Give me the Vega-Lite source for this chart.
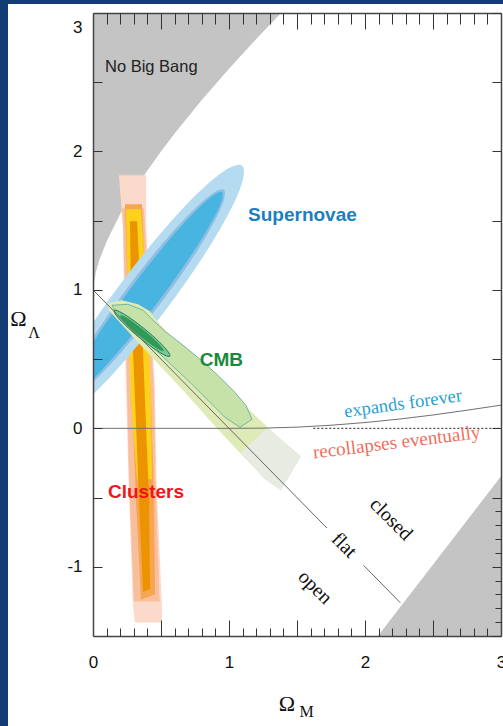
{
  "$schema": "https://vega.github.io/schema/vega-lite/v6.json",
  "width": 408,
  "height": 623,
  "autosize": {"type": "none"},
  "padding": {"left": 93, "top": 13, "right": 2, "bottom": 90},
  "background": "white",
  "config": {"view": {"stroke": null}},
  "datasets": {
    "frame": [
      {"edge": "left", "om": -0.7, "ol": 3.2, "om2": -0.625, "ol2": -2.3},
      {"edge": "top", "om": -0.7, "ol": 3.2, "om2": 3.2, "ol2": 3.065}
    ],
    "nobigbang": [
      {"om": 0, "ol": 1.0}, {"om": 0.02, "ol": 1.125}, {"om": 0.05, "ol": 1.2245}, {"om": 0.1, "ol": 1.35},
      {"om": 0.2, "ol": 1.548}, {"om": 0.3, "ol": 1.7135}, {"om": 0.4, "ol": 1.862}, {"om": 0.5, "ol": 2.0},
      {"om": 0.6, "ol": 2.13}, {"om": 0.8, "ol": 2.372}, {"om": 1.0, "ol": 2.598}, {"om": 1.2, "ol": 2.812},
      {"om": 1.4, "ol": 3.018}, {"om": 1.5, "ol": 3.1175}
    ],
    "recollapse": [
      {"om": 2.095, "ol": -1.5}, {"om": 2.55, "ol": -0.92}, {"om": 3.0, "ol": -0.347}, {"om": 3.1, "ol": -0.22}
    ],
    "shapes": [
      {"part": "sn_outer", "i": 0, "om": 1.095, "ol": 1.897}, {"part": "sn_outer", "i": 1, "om": 1.076, "ol": 1.716},
      {"part": "sn_outer", "i": 2, "om": 0.871, "ol": 1.335}, {"part": "sn_outer", "i": 3, "om": 0.535, "ol": 0.855},
      {"part": "sn_outer", "i": 4, "om": 0.158, "ol": 0.406}, {"part": "sn_outer", "i": 5, "om": -0.158, "ol": 0.107},
      {"part": "sn_outer", "i": 6, "om": -0.33, "ol": 0.039}, {"part": "sn_outer", "i": 7, "om": -0.311, "ol": 0.22},
      {"part": "sn_outer", "i": 8, "om": -0.106, "ol": 0.602}, {"part": "sn_outer", "i": 9, "om": 0.23, "ol": 1.081},
      {"part": "sn_outer", "i": 10, "om": 0.606, "ol": 1.531}, {"part": "sn_outer", "i": 11, "om": 0.923, "ol": 1.829},

      {"part": "sn_ring", "i": 0, "om": 0.962, "ol": 1.724}, {"part": "sn_ring", "i": 1, "om": 0.937, "ol": 1.584},
      {"part": "sn_ring", "i": 2, "om": 0.764, "ol": 1.278}, {"part": "sn_ring", "i": 3, "om": 0.488, "ol": 0.89},
      {"part": "sn_ring", "i": 4, "om": 0.184, "ol": 0.522}, {"part": "sn_ring", "i": 5, "om": -0.067, "ol": 0.274},
      {"part": "sn_ring", "i": 6, "om": -0.197, "ol": 0.212}, {"part": "sn_ring", "i": 7, "om": -0.173, "ol": 0.353},
      {"part": "sn_ring", "i": 8, "om": 0.001, "ol": 0.658}, {"part": "sn_ring", "i": 9, "om": 0.277, "ol": 1.047},
      {"part": "sn_ring", "i": 10, "om": 0.581, "ol": 1.414}, {"part": "sn_ring", "i": 11, "om": 0.832, "ol": 1.662},

      {"part": "sn_inner", "i": 0, "om": 0.949, "ol": 1.707}, {"part": "sn_inner", "i": 1, "om": 0.917, "ol": 1.575},
      {"part": "sn_inner", "i": 2, "om": 0.742, "ol": 1.281}, {"part": "sn_inner", "i": 3, "om": 0.471, "ol": 0.903},
      {"part": "sn_inner", "i": 4, "om": 0.176, "ol": 0.542}, {"part": "sn_inner", "i": 5, "om": -0.064, "ol": 0.296},
      {"part": "sn_inner", "i": 6, "om": -0.184, "ol": 0.23}, {"part": "sn_inner", "i": 7, "om": -0.152, "ol": 0.361},
      {"part": "sn_inner", "i": 8, "om": 0.023, "ol": 0.655}, {"part": "sn_inner", "i": 9, "om": 0.294, "ol": 1.033},
      {"part": "sn_inner", "i": 10, "om": 0.589, "ol": 1.394}, {"part": "sn_inner", "i": 11, "om": 0.829, "ol": 1.64},

      {"part": "cmb_outer", "i": 0, "om": 0.11, "ol": 0.903}, {"part": "cmb_outer", "i": 1, "om": 0.213, "ol": 0.925},
      {"part": "cmb_outer", "i": 2, "om": 0.331, "ol": 0.896}, {"part": "cmb_outer", "i": 3, "om": 0.419, "ol": 0.845},
      {"part": "cmb_outer", "i": 4, "om": 0.478, "ol": 0.766}, {"part": "cmb_outer", "i": 5, "om": 0.566, "ol": 0.672},
      {"part": "cmb_outer", "i": 6, "om": 0.669, "ol": 0.578}, {"part": "cmb_outer", "i": 7, "om": 0.787, "ol": 0.477},
      {"part": "cmb_outer", "i": 8, "om": 0.919, "ol": 0.354}, {"part": "cmb_outer", "i": 9, "om": 1.051, "ol": 0.224},
      {"part": "cmb_outer", "i": 10, "om": 1.191, "ol": 0.094}, {"part": "cmb_outer", "i": 11, "om": 1.324, "ol": -0.029},
      {"part": "cmb_outer", "i": 12, "om": 1.441, "ol": -0.13}, {"part": "cmb_outer", "i": 13, "om": 1.529, "ol": -0.202},
      {"part": "cmb_outer", "i": 14, "om": 1.382, "ol": -0.448}, {"part": "cmb_outer", "i": 15, "om": 1.265, "ol": -0.368},
      {"part": "cmb_outer", "i": 16, "om": 1.14, "ol": -0.238}, {"part": "cmb_outer", "i": 17, "om": 1.022, "ol": -0.116},
      {"part": "cmb_outer", "i": 18, "om": 0.904, "ol": 0.007}, {"part": "cmb_outer", "i": 19, "om": 0.787, "ol": 0.137},
      {"part": "cmb_outer", "i": 20, "om": 0.669, "ol": 0.267}, {"part": "cmb_outer", "i": 21, "om": 0.551, "ol": 0.39},
      {"part": "cmb_outer", "i": 22, "om": 0.434, "ol": 0.513}, {"part": "cmb_outer", "i": 23, "om": 0.331, "ol": 0.621},
      {"part": "cmb_outer", "i": 24, "om": 0.243, "ol": 0.715}, {"part": "cmb_outer", "i": 25, "om": 0.162, "ol": 0.802},
      {"part": "cmb_outer", "i": 26, "om": 0.11, "ol": 0.86},

      {"part": "cmb_tail", "i": 0, "om": 1.287, "ol": 0.007}, {"part": "cmb_tail", "i": 1, "om": 1.324, "ol": -0.029},
      {"part": "cmb_tail", "i": 2, "om": 1.441, "ol": -0.13}, {"part": "cmb_tail", "i": 3, "om": 1.529, "ol": -0.202},
      {"part": "cmb_tail", "i": 4, "om": 1.382, "ol": -0.448}, {"part": "cmb_tail", "i": 5, "om": 1.265, "ol": -0.368},
      {"part": "cmb_tail", "i": 6, "om": 1.14, "ol": -0.238}, {"part": "cmb_tail", "i": 7, "om": 1.081, "ol": -0.181},

      {"part": "cmb_mid", "i": 0, "om": 0.14, "ol": 0.889}, {"part": "cmb_mid", "i": 1, "om": 0.257, "ol": 0.896},
      {"part": "cmb_mid", "i": 2, "om": 0.368, "ol": 0.853}, {"part": "cmb_mid", "i": 3, "om": 0.434, "ol": 0.788},
      {"part": "cmb_mid", "i": 4, "om": 0.529, "ol": 0.701}, {"part": "cmb_mid", "i": 5, "om": 0.654, "ol": 0.607},
      {"part": "cmb_mid", "i": 6, "om": 0.787, "ol": 0.499}, {"part": "cmb_mid", "i": 7, "om": 0.919, "ol": 0.383},
      {"part": "cmb_mid", "i": 8, "om": 1.037, "ol": 0.267}, {"part": "cmb_mid", "i": 9, "om": 1.125, "ol": 0.166},
      {"part": "cmb_mid", "i": 10, "om": 1.169, "ol": 0.065}, {"part": "cmb_mid", "i": 11, "om": 1.081, "ol": 0.007},
      {"part": "cmb_mid", "i": 12, "om": 0.971, "ol": 0.079}, {"part": "cmb_mid", "i": 13, "om": 0.846, "ol": 0.202},
      {"part": "cmb_mid", "i": 14, "om": 0.713, "ol": 0.332}, {"part": "cmb_mid", "i": 15, "om": 0.581, "ol": 0.455},
      {"part": "cmb_mid", "i": 16, "om": 0.463, "ol": 0.564}, {"part": "cmb_mid", "i": 17, "om": 0.346, "ol": 0.672},
      {"part": "cmb_mid", "i": 18, "om": 0.243, "ol": 0.773}, {"part": "cmb_mid", "i": 19, "om": 0.162, "ol": 0.845},

      {"part": "cmb_ell", "i": 0, "om": 0.565, "ol": 0.521}, {"part": "cmb_ell", "i": 1, "om": 0.526, "ol": 0.529},
      {"part": "cmb_ell", "i": 2, "om": 0.442, "ol": 0.58}, {"part": "cmb_ell", "i": 3, "om": 0.337, "ol": 0.659},
      {"part": "cmb_ell", "i": 4, "om": 0.238, "ol": 0.745}, {"part": "cmb_ell", "i": 5, "om": 0.172, "ol": 0.815},
      {"part": "cmb_ell", "i": 6, "om": 0.156, "ol": 0.852}, {"part": "cmb_ell", "i": 7, "om": 0.195, "ol": 0.843},
      {"part": "cmb_ell", "i": 8, "om": 0.278, "ol": 0.793}, {"part": "cmb_ell", "i": 9, "om": 0.384, "ol": 0.714},
      {"part": "cmb_ell", "i": 10, "om": 0.483, "ol": 0.628}, {"part": "cmb_ell", "i": 11, "om": 0.549, "ol": 0.557},

      {"part": "cmb_core", "i": 0, "om": 0.519, "ol": 0.558}, {"part": "cmb_core", "i": 1, "om": 0.49, "ol": 0.565},
      {"part": "cmb_core", "i": 2, "om": 0.426, "ol": 0.605}, {"part": "cmb_core", "i": 3, "om": 0.344, "ol": 0.667},
      {"part": "cmb_core", "i": 4, "om": 0.267, "ol": 0.734}, {"part": "cmb_core", "i": 5, "om": 0.214, "ol": 0.788},
      {"part": "cmb_core", "i": 6, "om": 0.201, "ol": 0.815}, {"part": "cmb_core", "i": 7, "om": 0.231, "ol": 0.807},
      {"part": "cmb_core", "i": 8, "om": 0.295, "ol": 0.768}, {"part": "cmb_core", "i": 9, "om": 0.377, "ol": 0.706},
      {"part": "cmb_core", "i": 10, "om": 0.454, "ol": 0.639}, {"part": "cmb_core", "i": 11, "om": 0.506, "ol": 0.585},

      {"part": "cl_pink", "i": 0, "om": 0.191, "ol": 1.828}, {"part": "cl_pink", "i": 1, "om": 0.39, "ol": 1.828},
      {"part": "cl_pink", "i": 2, "om": 0.39, "ol": 1.46}, {"part": "cl_pink", "i": 3, "om": 0.456, "ol": 0.282},
      {"part": "cl_pink", "i": 4, "om": 0.467, "ol": -0.368}, {"part": "cl_pink", "i": 5, "om": 0.507, "ol": -1.286},
      {"part": "cl_pink", "i": 6, "om": 0.507, "ol": -1.402}, {"part": "cl_pink", "i": 7, "om": 0.309, "ol": -1.402},
      {"part": "cl_pink", "i": 8, "om": 0.294, "ol": -1.286}, {"part": "cl_pink", "i": 9, "om": 0.261, "ol": -0.368},
      {"part": "cl_pink", "i": 10, "om": 0.243, "ol": 0.282}, {"part": "cl_pink", "i": 11, "om": 0.219, "ol": 1.46},

      {"part": "cl_salmon", "i": 0, "om": 0.213, "ol": 1.59}, {"part": "cl_salmon", "i": 1, "om": 0.375, "ol": 1.59},
      {"part": "cl_salmon", "i": 2, "om": 0.449, "ol": 0.282}, {"part": "cl_salmon", "i": 3, "om": 0.46, "ol": -0.368},
      {"part": "cl_salmon", "i": 4, "om": 0.49, "ol": -1.25}, {"part": "cl_salmon", "i": 5, "om": 0.3, "ol": -1.25},
      {"part": "cl_salmon", "i": 6, "om": 0.265, "ol": -0.368}, {"part": "cl_salmon", "i": 7, "om": 0.25, "ol": 0.282},
      {"part": "cl_salmon", "i": 8, "om": 0.222, "ol": 1.46},

      {"part": "cl_orange", "i": 0, "om": 0.235, "ol": 1.618}, {"part": "cl_orange", "i": 1, "om": 0.36, "ol": 1.618},
      {"part": "cl_orange", "i": 2, "om": 0.39, "ol": 0.932}, {"part": "cl_orange", "i": 3, "om": 0.426, "ol": 0.21},
      {"part": "cl_orange", "i": 4, "om": 0.449, "ol": -0.513}, {"part": "cl_orange", "i": 5, "om": 0.456, "ol": -1.199},
      {"part": "cl_orange", "i": 6, "om": 0.353, "ol": -1.236}, {"part": "cl_orange", "i": 7, "om": 0.316, "ol": -0.513},
      {"part": "cl_orange", "i": 8, "om": 0.287, "ol": 0.21}, {"part": "cl_orange", "i": 9, "om": 0.257, "ol": 0.932},

      {"part": "cl_yellow", "i": 0, "om": 0.243, "ol": 1.582}, {"part": "cl_yellow", "i": 1, "om": 0.353, "ol": 1.582},
      {"part": "cl_yellow", "i": 2, "om": 0.397, "ol": 0.932}, {"part": "cl_yellow", "i": 3, "om": 0.426, "ol": 0.21},
      {"part": "cl_yellow", "i": 4, "om": 0.434, "ol": -0.368}, {"part": "cl_yellow", "i": 5, "om": 0.324, "ol": -0.368},
      {"part": "cl_yellow", "i": 6, "om": 0.279, "ol": 0.21}, {"part": "cl_yellow", "i": 7, "om": 0.257, "ol": 0.932},

      {"part": "cl_core", "i": 0, "om": 0.272, "ol": 1.496}, {"part": "cl_core", "i": 1, "om": 0.324, "ol": 1.496},
      {"part": "cl_core", "i": 2, "om": 0.353, "ol": 0.932}, {"part": "cl_core", "i": 3, "om": 0.382, "ol": 0.21},
      {"part": "cl_core", "i": 4, "om": 0.412, "ol": -0.513}, {"part": "cl_core", "i": 5, "om": 0.419, "ol": -1.163},
      {"part": "cl_core", "i": 6, "om": 0.368, "ol": -1.178}, {"part": "cl_core", "i": 7, "om": 0.338, "ol": -0.513},
      {"part": "cl_core", "i": 8, "om": 0.309, "ol": 0.21}, {"part": "cl_core", "i": 9, "om": 0.279, "ol": 0.932}
    ],
    "flat": [
      {"seg": "a", "om": 0, "ol": 1}, {"seg": "a", "om": 1.72, "ol": -0.72},
      {"seg": "b", "om": 1.99, "ol": -0.99}, {"seg": "b", "om": 2.26, "ol": -1.26}
    ],
    "expansion": [
      {"om": 0, "ol": 0}, {"om": 1.0, "ol": 0}, {"om": 1.25, "ol": 0.0015}, {"om": 1.5, "ol": 0.0087},
      {"om": 1.75, "ol": 0.0223}, {"om": 2.0, "ol": 0.0419}, {"om": 2.25, "ol": 0.0666}, {"om": 2.5, "ol": 0.0964},
      {"om": 2.75, "ol": 0.1309}, {"om": 3.0, "ol": 0.1675}
    ],
    "zeroline": [{"om": 1.62, "ol": 0}, {"om": 3.0, "ol": 0}],
    "labels": [
      {"label": "No Big Bang", "om": 0.088, "ol": 2.612},
      {"label": "Supernovae", "om": 1.14, "ol": 1.543},
      {"label": "CMB", "om": 0.785, "ol": 0.495},
      {"label": "Clusters", "om": 0.11, "ol": -0.459},
      {"label": "expands forever", "om": 2.279, "ol": 0.181},
      {"label": "recollapses eventually", "om": 2.232, "ol": -0.101},
      {"label": "closed", "om": 2.191, "ol": -0.657},
      {"label": "flat", "om": 1.846, "ol": -0.845},
      {"label": "open", "om": 1.632, "ol": -1.149},
      {"label": "Ω", "om": -0.548, "ol": 0.788},
      {"label": "Λ", "om": -0.434, "ol": 0.686},
      {"label": "Ω ", "om": 1.426, "ol": -1.991},
      {"label": "M", "om": 1.57, "ol": -2.048}
    ]
  },
  "data": {"name": "shapes"},
  "encoding": {
    "x": {"field": "om", "type": "quantitative", "scale": {"domain": [0, 3], "nice": false, "zero": false}, "axis": null},
    "y": {"field": "ol", "type": "quantitative", "scale": {"domain": [-1.5, 3], "nice": false, "zero": false}, "axis": null}
  },
  "resolve": {"axis": {"x": "independent", "y": "independent"}},
  "layer": [
    {
      "data": {"name": "frame"},
      "mark": {"type": "rect", "fill": "#123d74", "clip": false},
      "encoding": {
        "x2": {"field": "om2"},
        "y2": {"field": "ol2"}
      }
    },
    {
      "data": {"name": "nobigbang"},
      "mark": {"type": "area", "orient": "horizontal", "color": "#c4c4c4", "clip": true},
      "encoding": {
        "x": {"field": "om", "type": "quantitative", "scale": {"domain": [0, 3], "nice": false, "zero": false},
          "axis": {"orient": "bottom", "values": [0, 1, 2, 3], "ticks": false, "domain": true, "domainColor": "#444", "domainWidth": 1.5,
            "labelFont": "Liberation Sans", "labelFontSize": 17, "labelColor": "#111", "labelPadding": 18, "labelFlush": false,
            "grid": false, "title": null, "zindex": 1}},
        "x2": {"datum": 0},
        "y": {"field": "ol", "type": "quantitative", "scale": {"domain": [-1.5, 3], "nice": false, "zero": false},
          "axis": {"orient": "left", "values": [-1, 0, 1, 2, 3], "ticks": false, "domain": true, "domainColor": "#444", "domainWidth": 1.5,
            "labelFont": "Liberation Sans", "labelFontSize": 17, "labelColor": "#111", "labelPadding": 11, "labelFlush": true,
            "labelFlushOffset": -6, "labelExpr": "replace(datum.label, '\u2212', '-')", "grid": false, "title": null, "zindex": 1}}
      }
    },
    {
      "data": {"name": "recollapse"},
      "mark": {"type": "area", "orient": "vertical", "color": "#c4c4c4", "clip": true},
      "encoding": {
        "x": {"field": "om", "type": "quantitative", "scale": {"domain": [0, 3], "nice": false, "zero": false},
          "axis": {"orient": "top", "values": [0, 0.5, 1, 1.5, 2, 2.5, 3], "ticks": true, "tickSize": -16, "tickColor": "#333",
            "labels": false, "domain": true, "domainColor": "#444", "domainWidth": 1.5, "grid": false, "title": null, "zindex": 1}},
        "y": {"field": "ol", "type": "quantitative", "scale": {"domain": [-1.5, 3], "nice": false, "zero": false},
          "axis": {"orient": "right", "values": [-1.5, -1, -0.5, 0, 0.5, 1, 1.5, 2, 2.5, 3], "ticks": true, "tickSize": -9, "tickColor": "#333",
            "labels": false, "domain": true, "domainColor": "#444", "domainWidth": 1.5, "grid": false, "title": null, "zindex": 1}},
        "y2": {"datum": -1.5}
      }
    },
    {
      "transform": [{"filter": "datum.part === 'cl_pink'"}],
      "mark": {"type": "line", "interpolate": "linear-closed", "fill": "#fcdacb", "stroke": "transparent", "clip": true},
      "encoding": {
        "x": {"field": "om", "type": "quantitative", "scale": {"domain": [0, 3], "nice": false, "zero": false},
          "axis": {"orient": "bottom", "values": [0.5, 1, 1.5, 2, 2.5], "ticks": true, "tickSize": -16, "tickColor": "#333",
            "labels": false, "domain": false, "grid": false, "title": null, "zindex": 1}},
        "y": {"field": "ol", "type": "quantitative", "scale": {"domain": [-1.5, 3], "nice": false, "zero": false},
          "axis": {"orient": "left", "values": [-1, -0.5, 0, 0.5, 1, 1.5, 2, 2.5], "ticks": true, "tickSize": -9, "tickColor": "#333",
            "labels": false, "domain": false, "grid": false, "title": null, "zindex": 1}},
        "order": {"field": "i", "type": "quantitative"}
      }
    },
    {
      "transform": [{"filter": "datum.part === 'cl_salmon'"}],
      "mark": {"type": "line", "interpolate": "linear-closed", "fill": "#f9bf9c", "stroke": "transparent", "clip": true},
      "encoding": {
        "x": {"field": "om", "type": "quantitative", "scale": {"domain": [0, 3], "nice": false, "zero": false},
          "axis": {"orient": "bottom", "values": [0.1, 0.2, 0.3, 0.4, 0.6, 0.7, 0.8, 0.9, 1.1, 1.2, 1.3, 1.4, 1.6, 1.7, 1.8, 1.9, 2.1, 2.2, 2.3, 2.4, 2.6, 2.7, 2.8, 2.9],
            "ticks": true, "tickSize": -8, "tickColor": "#333", "labels": false, "domain": false, "grid": false, "title": null, "zindex": 1}},
        "y": {"field": "ol", "type": "quantitative", "scale": {"domain": [-1.5, 3], "nice": false, "zero": false},
          "axis": {"orient": "right", "values": [-1.4, -1.3, -1.2, -1.1, -0.9, -0.8, -0.7, -0.6],
            "ticks": true, "tickSize": -6, "tickColor": "#333", "labels": false, "domain": false, "grid": false, "title": null, "zindex": 1}},
        "order": {"field": "i", "type": "quantitative"}
      }
    },
    {
      "transform": [{"filter": "datum.part === 'cl_orange'"}],
      "mark": {"type": "line", "interpolate": "linear-closed", "fill": "#f6a552", "stroke": "transparent", "clip": true},
      "encoding": {
        "x": {"field": "om", "type": "quantitative", "scale": {"domain": [0, 3], "nice": false, "zero": false},
          "axis": {"orient": "top", "values": [0.1, 0.2, 0.3, 0.4, 0.6, 0.7, 0.8, 0.9, 1.1, 1.2, 1.3, 1.4, 1.6, 1.7, 1.8, 1.9, 2.1, 2.2, 2.3, 2.4, 2.6, 2.7, 2.8, 2.9],
            "ticks": true, "tickSize": -11, "tickColor": "#333", "labels": false, "domain": false, "grid": false, "title": null, "zindex": 1}},
        "order": {"field": "i", "type": "quantitative"}
      }
    },
    {
      "transform": [{"filter": "datum.part === 'cl_yellow'"}],
      "mark": {"type": "line", "interpolate": "linear-closed", "fill": "#fdd21a", "stroke": "transparent", "clip": true},
      "encoding": {"order": {"field": "i", "type": "quantitative"}}
    },
    {
      "transform": [{"filter": "datum.part === 'cl_core'"}],
      "mark": {"type": "line", "interpolate": "linear-closed", "fill": "#ec9300", "stroke": "transparent", "clip": true},
      "encoding": {"order": {"field": "i", "type": "quantitative"}}
    },
    {
      "transform": [{"filter": "datum.part === 'sn_outer'"}],
      "mark": {"type": "line", "interpolate": "cardinal-closed", "fill": "#b5dbf0", "stroke": "transparent", "clip": true},
      "encoding": {"order": {"field": "i", "type": "quantitative"}}
    },
    {
      "transform": [{"filter": "datum.part === 'sn_ring'"}],
      "mark": {"type": "line", "interpolate": "cardinal-closed", "fill": "#92bde3", "stroke": "transparent", "clip": true},
      "encoding": {"order": {"field": "i", "type": "quantitative"}}
    },
    {
      "transform": [{"filter": "datum.part === 'sn_inner'"}],
      "mark": {"type": "line", "interpolate": "cardinal-closed", "fill": "#48b5e0", "stroke": "transparent", "clip": true},
      "encoding": {"order": {"field": "i", "type": "quantitative"}}
    },
    {
      "transform": [{"filter": "datum.part === 'cmb_outer'"}],
      "mark": {"type": "line", "interpolate": "linear-closed", "fill": "#dfebb6", "stroke": "transparent", "clip": true},
      "encoding": {"order": {"field": "i", "type": "quantitative"}}
    },
    {
      "transform": [{"filter": "datum.part === 'cmb_tail'"}],
      "mark": {"type": "line", "interpolate": "linear-closed", "fill": "#e8ebe2", "stroke": "transparent", "clip": true},
      "encoding": {"order": {"field": "i", "type": "quantitative"}}
    },
    {
      "transform": [{"filter": "datum.part === 'cmb_mid'"}],
      "mark": {"type": "line", "interpolate": "linear-closed", "fill": "#c6e2a8", "stroke": "#5aaa9c", "strokeWidth": 0.8, "clip": true},
      "encoding": {"order": {"field": "i", "type": "quantitative"}}
    },
    {
      "transform": [{"filter": "datum.part === 'cmb_ell'"}],
      "mark": {"type": "line", "interpolate": "cardinal-closed", "fill": "#7cc796", "stroke": "#1b7a55", "strokeWidth": 1, "clip": true},
      "encoding": {"order": {"field": "i", "type": "quantitative"}}
    },
    {
      "transform": [{"filter": "datum.part === 'cmb_core'"}],
      "mark": {"type": "line", "interpolate": "cardinal-closed", "fill": "#2f9a55", "stroke": "transparent", "clip": true},
      "encoding": {"order": {"field": "i", "type": "quantitative"}}
    },
    {
      "data": {"name": "expansion"},
      "mark": {"type": "line", "color": "#707070", "strokeWidth": 1, "clip": true},
      "encoding": {}
    },
    {
      "data": {"name": "zeroline"},
      "mark": {"type": "line", "color": "#222", "strokeWidth": 1, "strokeDash": [2, 2], "clip": true},
      "encoding": {}
    },
    {
      "data": {"name": "flat"},
      "mark": {"type": "line", "color": "#666", "strokeWidth": 1, "clip": true},
      "encoding": {"detail": {"field": "seg", "type": "nominal"}}
    },
    {
      "data": {"name": "labels"},
      "transform": [{"filter": "datum.label === 'No Big Bang'"}],
      "mark": {"type": "text", "align": "left", "baseline": "middle", "font": "Liberation Sans", "fontSize": 16.5, "color": "#222"},
      "encoding": {"text": {"field": "label"}}
    },
    {
      "data": {"name": "labels"},
      "transform": [{"filter": "datum.label === 'Supernovae'"}],
      "mark": {"type": "text", "align": "left", "baseline": "middle", "font": "Liberation Sans", "fontWeight": "bold", "fontSize": 19, "color": "#1b7fc0"},
      "encoding": {"text": {"field": "label"}}
    },
    {
      "data": {"name": "labels"},
      "transform": [{"filter": "datum.label === 'CMB'"}],
      "mark": {"type": "text", "align": "left", "baseline": "middle", "font": "Liberation Sans", "fontWeight": "bold", "fontSize": 19, "color": "#178a3a"},
      "encoding": {"text": {"field": "label"}}
    },
    {
      "data": {"name": "labels"},
      "transform": [{"filter": "datum.label === 'Clusters'"}],
      "mark": {"type": "text", "align": "left", "baseline": "middle", "font": "Liberation Sans", "fontWeight": "bold", "fontSize": 19, "color": "#ee1520"},
      "encoding": {"text": {"field": "label"}}
    },
    {
      "data": {"name": "labels"},
      "transform": [{"filter": "datum.label === 'expands forever'"}],
      "mark": {"type": "text", "align": "center", "baseline": "middle", "font": "Liberation Serif", "fontSize": 18.5, "color": "#2a9fd4", "angle": 352},
      "encoding": {"text": {"field": "label"}}
    },
    {
      "data": {"name": "labels"},
      "transform": [{"filter": "datum.label === 'recollapses eventually'"}],
      "mark": {"type": "text", "align": "center", "baseline": "middle", "font": "Liberation Serif", "fontSize": 19, "color": "#f26d5d", "angle": 353},
      "encoding": {"text": {"field": "label"}}
    },
    {
      "data": {"name": "labels"},
      "transform": [{"filter": "datum.label === 'closed' || datum.label === 'flat' || datum.label === 'open'"}],
      "mark": {"type": "text", "align": "center", "baseline": "middle", "font": "Liberation Serif", "fontSize": 20, "color": "#111", "angle": 45},
      "encoding": {"text": {"field": "label"}}
    },
    {
      "data": {"name": "labels"},
      "transform": [{"filter": "datum.label === 'Ω' || datum.label === 'Ω '"}],
      "mark": {"type": "text", "align": "center", "baseline": "middle", "font": "Liberation Serif", "fontSize": 22, "color": "#111"},
      "encoding": {"text": {"field": "label"}}
    },
    {
      "data": {"name": "labels"},
      "transform": [{"filter": "datum.label === 'Λ' || datum.label === 'M'"}],
      "mark": {"type": "text", "align": "center", "baseline": "middle", "font": "Liberation Serif", "fontSize": 16, "color": "#111"},
      "encoding": {"text": {"field": "label"}}
    }
  ]
}
